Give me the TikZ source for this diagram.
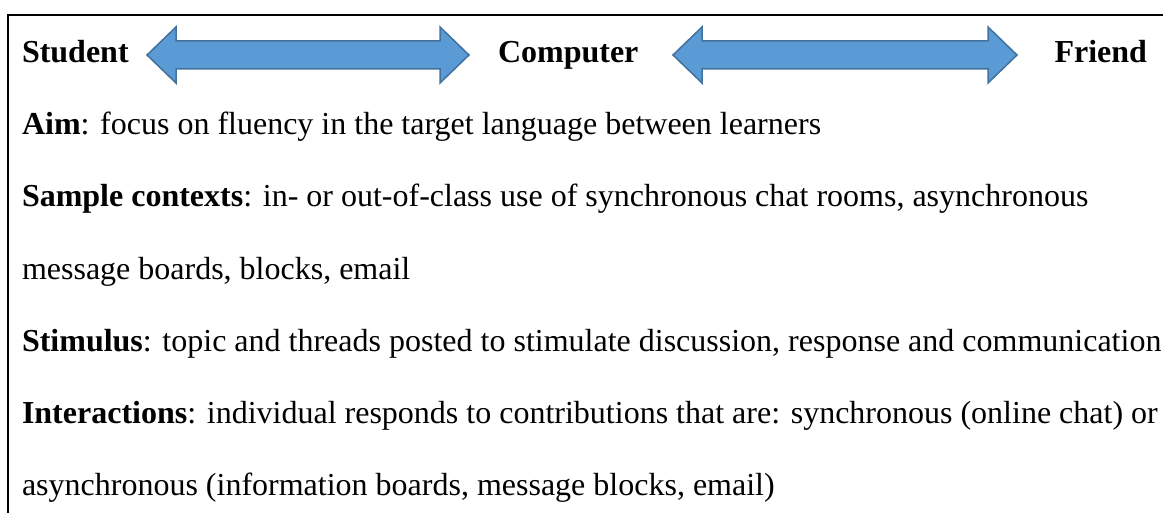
\documentclass[tikz,border=0pt]{standalone}
\usepackage{fontspec}
\setmainfont{Liberation Serif}
\usetikzlibrary{calc}
\definecolor{arrowfill}{HTML}{5B9BD5}
\definecolor{arrowline}{HTML}{41719C}
\begin{document}
\begin{tikzpicture}[x=1pt,y=-1pt,
  txt/.style={inner sep=0pt,outer sep=0pt,font=\fontsize{32}{38}\selectfont},
  frameline/.style={line width=2pt,black},
  dblarrow/.style={fill=arrowfill,draw=arrowline,line width=1.5pt,line join=miter}]
\useasboundingbox (0,0) rectangle (1167,513);
% frame
\coordinate (fl) at (8,15);
\coordinate (fr) at (1163,15);
\coordinate (fb) at (8,514);
\draw[frameline] (fr) -- (fl) -- (fb);
% header
\node[txt,anchor=base west] (student) at (22,63) {\textbf{Student}};
\node[txt,anchor=base west] (computer) at (498,63) {\textbf{Computer}};
\node[txt,anchor=base east] (friend) at (1147,63) {\textbf{Friend}};
\coordinate (a1l) at (147,55);
\coordinate (a1r) at (469,55);
\coordinate (a2l) at (673,55);
\coordinate (a2r) at (1017,55);
\foreach \l/\r in {a1l/a1r,a2l/a2r}{
  \draw[dblarrow] (\l) -- ++(29,-28) -- ++(0,14) -- ($(\r)+(-29,-14)$) -- ++(0,-14) -- (\r)
     -- ++(-29,28) -- ++(0,-14) -- ($(\l)+(29,14)$) -- ++(0,14) -- cycle;
}
% body
\node[txt,anchor=base west] (aim) at (22,135) {\textbf{Aim}: focus on fluency in the target language between learners};
\node[txt,anchor=base west] (sample) at (22,207) {\textbf{Sample contexts}: in- or out-of-class use of synchronous chat rooms, asynchronous};
\node[txt,anchor=base west] (sample2) at (22,279) {message boards, blocks, email};
\node[txt,anchor=base west] (stim) at (22,351) {\textbf{Stimulus}: topic and threads posted to stimulate discussion, response and communication};
\node[txt,anchor=base west] (inter) at (22,423) {\textbf{Interactions}: individual responds to contributions that are: synchronous (online chat) or};
\node[txt,anchor=base west] (inter2) at (22,495) {asynchronous (information boards, message blocks, email)};
\end{tikzpicture}
\end{document}
